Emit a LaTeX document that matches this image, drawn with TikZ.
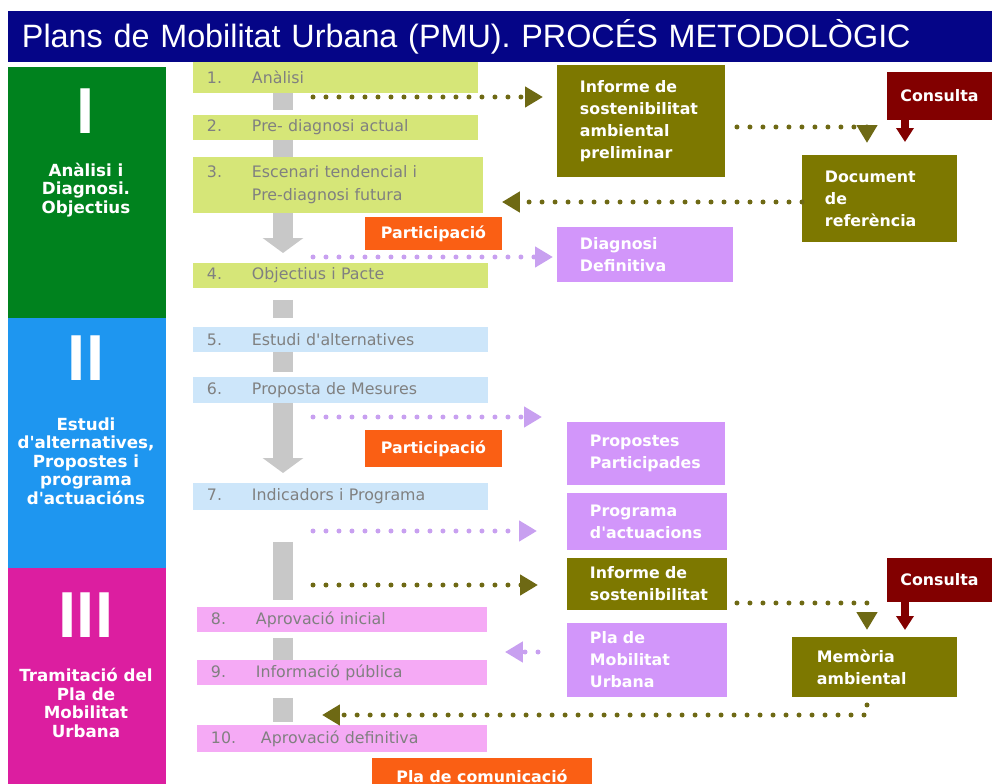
\documentclass[tikz,border=0pt]{standalone}
\usepackage{fontspec}
\usetikzlibrary{arrows.meta}
\newfontfamily\dejavu{DejaVu Sans}
\newfontfamily\libsans{Liberation Sans}

\definecolor{titlebg}{RGB}{5,5,135}
\definecolor{phasegreen}{RGB}{0,130,30}
\definecolor{phaseblue}{RGB}{30,150,240}
\definecolor{phasepink}{RGB}{220,30,160}
\definecolor{steplime}{RGB}{214,230,120}
\definecolor{stepblue}{RGB}{205,230,250}
\definecolor{steppink}{RGB}{245,170,245}
\definecolor{stepgray}{RGB}{128,128,128}
\definecolor{olivebox}{RGB}{125,120,0}
\definecolor{olivedot}{RGB}{110,105,20}
\definecolor{lilacbox}{RGB}{210,150,250}
\definecolor{lilacdot}{RGB}{200,160,240}
\definecolor{orangebox}{RGB}{250,95,20}
\definecolor{consred}{RGB}{130,0,0}
\definecolor{blockgray}{RGB}{200,200,200}

\tikzset{
  bar/.style={anchor=north west, inner sep=0pt, outer sep=0pt},
  stepbox/.style={bar, inner xsep=0.28cm, align=left, text=stepgray,
    font=\dejavu\fontsize{9}{13}\selectfont},
  wbox/.style={bar, inner xsep=0.46cm, align=left, text=white,
    font=\dejavu\bfseries\fontsize{9}{12.5}\selectfont},
  cbox/.style={bar, align=center, text=white,
    font=\dejavu\bfseries\fontsize{9}{12.5}\selectfont},
  phasetxt/.style={align=center, text=white, inner sep=0pt,
    font=\dejavu\bfseries\fontsize{9.5}{10.5}\selectfont},
  numeral/.style={text=white, inner sep=0pt, font=\libsans\bfseries\fontsize{37}{40}\selectfont},
  gblock/.style={draw=blockgray, line width=0.4cm},
  garrow/.style={gblock, -{Triangle[width=0.8cm,length=0.3cm]}},
  odots/.style={draw=olivedot, line width=0.1cm, line cap=round, dash pattern=on 0pt off 0.26cm,
    -{Triangle[width=0.4cm,length=0.36cm]}},
  ldots/.style={odots, draw=lilacdot},
  rarrow/.style={draw=consred, line width=0.16cm, -{Triangle[width=0.34cm,length=0.28cm]}}
}

\begin{document}
\begin{tikzpicture}[x=0.02cm, y=-0.02cm]

\useasboundingbox (0,0) rectangle (992,784);

\node (title) [bar, fill=titlebg, minimum width=19.68cm, minimum height=1.02cm, inner xsep=0.28cm,
  text width=19.12cm, align=left, text=white, font=\libsans\fontsize{18.4}{20}\selectfont] at (8,11)
  {Plans de Mobilitat Urbana (PMU). PROCÉS METODOLÒGIC};

\node (ph1) [bar, fill=phasegreen, minimum width=3.16cm, minimum height=5.02cm] at (8,67) {};
\node (ph2) [bar, fill=phaseblue, minimum width=3.16cm, minimum height=5.00cm] at (8,318) {};
\node (ph3) [bar, fill=phasepink, minimum width=3.16cm, minimum height=4.32cm] at (8,568) {};
\node (num1) [numeral] at (86,111) {I};
\node (num2) [numeral] at (86,358) {II};
\node (num3) [numeral] at (86,615) {III};
\node (lab1) [phasetxt] at (86,190) {Anàlisi i\\Diagnosi.\\Objectius};
\node (lab2) [phasetxt] at (86,461) {Estudi\\d'alternatives,\\Propostes i\\programa\\d'actuacións};
\node (lab3) [phasetxt] at (86,703) {Tramitació del\\Pla de\\Mobilitat\\Urbana};

\node (s1) [stepbox, fill=steplime, minimum width=5.70cm, minimum height=0.62cm, text width=5.14cm] at (193,62)
  {\makebox[0.9cm][l]{1.}Anàlisi};
\node (s2) [stepbox, fill=steplime, minimum width=5.70cm, minimum height=0.50cm, text width=5.14cm] at (193,115)
  {\makebox[0.9cm][l]{2.}Pre- diagnosi actual};
\node (s3) [stepbox, fill=steplime, minimum width=5.80cm, minimum height=1.12cm, text width=5.24cm] at (193,157)
  {\makebox[0.9cm][l]{3.}Escenari tendencial i\\\hspace*{0.9cm}Pre-diagnosi futura};
\node (s4) [stepbox, fill=steplime, minimum width=5.90cm, minimum height=0.50cm, text width=5.34cm] at (193,263)
  {\makebox[0.9cm][l]{4.}Objectius i Pacte};
\node (s5) [stepbox, fill=stepblue, minimum width=5.90cm, minimum height=0.50cm, text width=5.34cm] at (193,327)
  {\makebox[0.9cm][l]{5.}Estudi d'alternatives};
\node (s6) [stepbox, fill=stepblue, minimum width=5.90cm, minimum height=0.52cm, text width=5.34cm] at (193,377)
  {\makebox[0.9cm][l]{6.}Proposta de Mesures};
\node (s7) [stepbox, fill=stepblue, minimum width=5.90cm, minimum height=0.54cm, text width=5.34cm] at (193,483)
  {\makebox[0.9cm][l]{7.}Indicadors i Programa};
\node (s8) [stepbox, fill=steppink, minimum width=5.80cm, minimum height=0.50cm, text width=5.24cm] at (197,607)
  {\makebox[0.9cm][l]{8.}Aprovació inicial};
\node (s9) [stepbox, fill=steppink, minimum width=5.80cm, minimum height=0.50cm, text width=5.24cm] at (197,660)
  {\makebox[0.9cm][l]{9.}Informació pública};
\node (s10) [stepbox, fill=steppink, minimum width=5.80cm, minimum height=0.54cm, text width=5.24cm, inner xsep=0.16cm] at (197,725)
  {\makebox[1.0cm][l]{10.}Aprovació definitiva};

\coordinate (ax) at (283,0);
\draw[gblock, shorten >=0.1cm] (s1.south -| ax) -- (s2.north -| ax);
\draw[gblock] (s2.south -| ax) -- (s3.north -| ax);
\draw[garrow, shorten >=0.2cm] (s3.south -| ax) -- (s4.north -| ax);
\draw[gblock, shorten <=0.24cm, shorten >=0.18cm] (s4.south -| ax) -- (s5.north -| ax);
\draw[gblock, shorten >=0.1cm] (s5.south -| ax) -- (s6.north -| ax);
\draw[garrow, shorten >=0.2cm] (s6.south -| ax) -- (s7.north -| ax);
\draw[gblock, shorten <=0.64cm, shorten >=0.14cm] (s7.south -| ax) -- (s8.north -| ax);
\draw[gblock, shorten <=0.12cm] (s8.south -| ax) -- (s9.north -| ax);
\draw[gblock, shorten <=0.26cm, shorten >=0.06cm] (s9.south -| ax) -- (s10.north -| ax);

\node (par1) [cbox, fill=orangebox, minimum width=2.74cm, minimum height=0.66cm] at (365,217) {Participació};
\node (par2) [cbox, fill=orangebox, minimum width=2.74cm, minimum height=0.74cm] at (365,430) {Participació};
\node (pcom) [cbox, fill=orangebox, minimum width=4.40cm, minimum height=0.72cm] at (372,758) {Pla de comunicació};

\node (inf1) [wbox, fill=olivebox, minimum width=3.36cm, minimum height=2.24cm, text width=2.44cm] at (557,65)
  {Informe de\\sostenibilitat\\ambiental\\preliminar};
\node (cons1) [cbox, fill=consred, minimum width=2.10cm, minimum height=0.96cm] at (887,72) {Consulta};
\node (doc) [wbox, fill=olivebox, minimum width=3.10cm, minimum height=1.74cm, text width=2.18cm] at (802,155)
  {Document\\de\\referència};
\node (diag) [wbox, fill=lilacbox, minimum width=3.52cm, minimum height=1.10cm, text width=2.60cm] at (557,227)
  {Diagnosi\\Definitiva};
\node (prop) [wbox, fill=lilacbox, minimum width=3.16cm, minimum height=1.26cm, text width=2.24cm] at (567,422)
  {Propostes\\Participades};
\node (prog) [wbox, fill=lilacbox, minimum width=3.20cm, minimum height=1.14cm, text width=2.28cm] at (567,493)
  {Programa\\d'actuacions};
\node (inf2) [wbox, fill=olivebox, minimum width=3.20cm, minimum height=1.04cm, text width=2.28cm] at (567,558)
  {Informe de\\sostenibilitat};
\node (cons2) [cbox, fill=consred, minimum width=2.10cm, minimum height=0.88cm] at (887,558) {Consulta};
\node (pla) [wbox, fill=lilacbox, minimum width=3.20cm, minimum height=1.48cm, text width=2.28cm] at (567,623)
  {Pla de\\Mobilitat\\Urbana};
\node (mem) [wbox, fill=olivebox, minimum width=3.30cm, minimum height=1.20cm, text width=2.30cm, inner xsep=0.5cm] at (792,637)
  {Memòria\\ambiental};

\coordinate (cx1) at (867,0);
\coordinate (cx2) at (905,0);
\coordinate (d1) at (313,97);
\coordinate (y3) at (0,202);
\coordinate (d4) at (313,257);
\coordinate (d5) at (313,417);
\coordinate (d6) at (313,531);
\coordinate (d7) at (313,585);
\coordinate (y9) at (0,652);
\coordinate (e10) at (322,715);

\draw[odots, shorten >=0.28cm] (d1) -- (inf1.west |- d1);
\draw[odots, shorten <=0.24cm, shorten >=0.24cm] ([yshift=-0.12cm]inf1.east) -| (doc.north -| cx1);
\draw[rarrow, shorten >=0.26cm] (cons1.south -| cx2) -- (doc.north -| cx2);
\draw[odots, shorten >=0.38cm] (doc.west |- y3) -- (s3.east |- y3);
\draw[ldots, shorten >=0.08cm] (d4) -- (diag.west |- d4);
\draw[ldots, shorten >=0.5cm] (d5) -- (prop.west |- d5);
\draw[ldots, shorten >=0.6cm] (d6) -- (prog.west |- d6);
\draw[odots, shorten >=0.58cm] (d7) -- (inf2.west |- d7);
\draw[odots, shorten <=0.2cm, shorten >=0.14cm] ([yshift=-0.38cm]inf2.east) -| (mem.north -| cx1);
\draw[rarrow, shorten >=0.14cm] (cons2.south -| cx2) -- (mem.north -| cx2);
\draw[ldots, shorten <=0.58cm, shorten >=0.36cm] (pla.west |- y9) -- (s9.east |- y9);
\draw[odots, shorten <=0.16cm] (mem.south -| cx1) |- (e10);

\end{tikzpicture}
\end{document}
